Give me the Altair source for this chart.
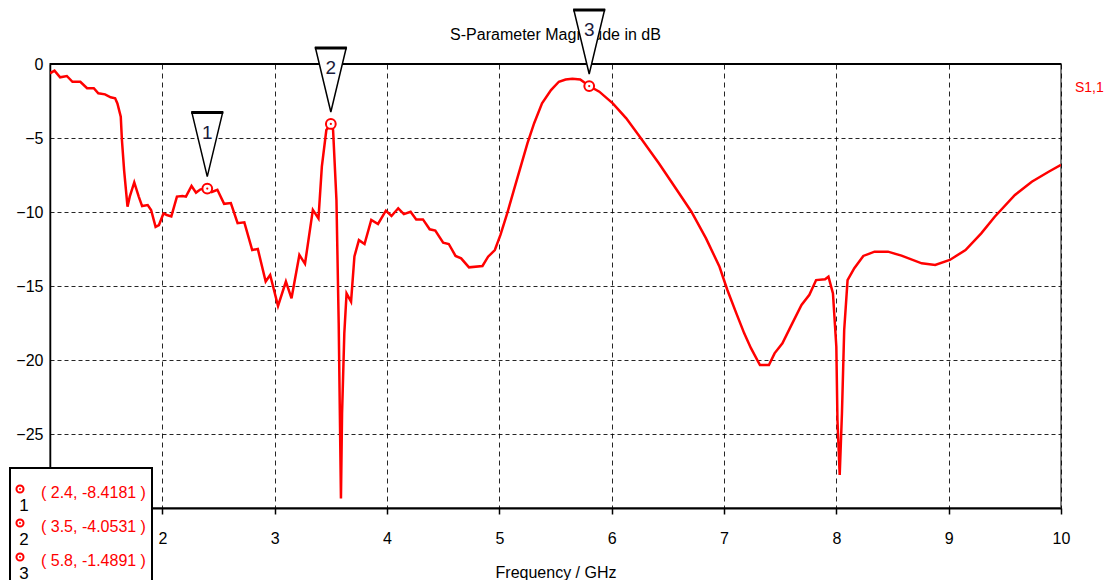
import altair as alt
import pandas as pd

# ---- data ----
freq = [1.00, 1.04, 1.09, 1.15, 1.20, 1.27, 1.33, 1.39, 1.43, 1.49, 1.54, 1.58, 1.60, 1.63, 1.64,
        1.66, 1.69, 1.71, 1.75, 1.79, 1.82, 1.87, 1.90, 1.94, 1.97, 2.01, 2.04, 2.08, 2.13, 2.18,
        2.21, 2.26, 2.30, 2.34, 2.40, 2.44, 2.49, 2.55, 2.61, 2.67, 2.73, 2.80, 2.85, 2.92, 2.96,
        3.03, 3.10, 3.15, 3.22, 3.27, 3.34, 3.39, 3.42, 3.46, 3.50, 3.52, 3.55, 3.57, 3.58, 3.59,
        3.60, 3.62, 3.64, 3.68, 3.71, 3.75, 3.80, 3.86, 3.92, 3.99, 4.04, 4.10, 4.15, 4.21, 4.26,
        4.32, 4.38, 4.43, 4.50, 4.55, 4.61, 4.66, 4.73, 4.85, 4.90, 4.96, 5.01, 5.07, 5.13, 5.19,
        5.25, 5.31, 5.38, 5.46, 5.53, 5.59, 5.65, 5.72, 5.80, 5.89, 6.01, 6.13, 6.26, 6.42, 6.57,
        6.71, 6.84, 6.96, 7.03, 7.11, 7.18, 7.24, 7.32, 7.40, 7.45, 7.52, 7.60, 7.69, 7.76, 7.82,
        7.90, 7.93, 7.97, 8.00, 8.01, 8.03, 8.05, 8.07, 8.10, 8.16, 8.24, 8.34, 8.46, 8.58, 8.76,
        8.88, 9.01, 9.15, 9.29, 9.41, 9.59, 9.74, 9.89, 10.00]
s11_db = [-0.63, -0.45, -0.90, -0.81, -1.20, -1.20, -1.64, -1.64, -1.98, -2.05, -2.25, -2.32, -2.66, -3.56, -5.10,
          -7.20, -9.64, -8.96, -8.00, -8.96, -9.60, -9.53, -9.86, -11.00, -10.88, -10.10, -10.20, -10.30, -8.96, -8.92,
          -8.96, -8.24, -8.69, -8.47, -8.4181, -8.65, -8.50, -9.45, -9.40, -10.76, -10.70, -12.57, -12.50, -14.70, -14.26,
          -16.35, -14.70, -15.83, -12.90, -13.50, -9.86, -10.43, -6.94, -4.46, -4.0531, -4.46, -9.19, -17.50, -23.40, -29.35,
          -23.60, -18.20, -15.50, -16.06, -13.00, -11.90, -12.16, -10.54, -10.81, -9.91, -10.27, -9.75, -10.14, -9.98, -10.50,
          -10.50, -11.17, -11.26, -12.07, -12.16, -12.97, -13.13, -13.74, -13.65, -13.02, -12.57, -11.55, -10.09, -8.51, -6.94,
          -5.36, -4.00, -2.66, -1.76, -1.20, -1.05, -1.00, -1.05, -1.4891, -1.87, -2.66, -3.67, -5.02, -6.71, -8.40,
          -9.98, -11.78, -13.70, -15.27, -16.85, -18.20, -19.20, -20.34, -20.34, -19.55, -18.87, -17.64, -16.28, -15.60, -14.60,
          -14.55, -14.37, -15.50, -19.10, -24.05, -27.77, -23.60, -17.97, -14.60, -13.80, -12.97, -12.68, -12.68, -12.95, -13.47,
          -13.58, -13.24, -12.57, -11.44, -10.32, -8.85, -7.95, -7.28, -6.82]

marker_id = ["1", "2", "3"]
marker_freq = [2.4, 3.5, 5.8]
marker_val = [-8.4181, -4.0531, -1.4891]

x_ticks = [2, 3, 4, 5, 6, 7, 8, 9, 10]
y_ticks = [0, -5, -10, -15, -20, -25]

title_text = "S-Parameter Magnitude in dB"
x_title = "Frequency / GHz"
series_name = "S1,1"

# ---- style ----
FONT = "Liberation Sans"
RED = "#ff0000"
W, H = 1011, 444

df = pd.DataFrame({"f": freq, "s": s11_db})
mk = pd.DataFrame({"id": marker_id, "f": marker_freq, "s": marker_val})
one = alt.Data(values=[{}])

xs = alt.Scale(domain=[1, 10], nice=False, zero=False)
ys = alt.Scale(domain=[-30, 0], nice=False, zero=False)

x_axis = alt.Axis(values=x_ticks, format="d", grid=True, gridColor="#000", gridDash=[5, 4], gridWidth=1,
                  gridOpacity=0.85, domainColor="#000", domainWidth=2, tickColor="#000", tickSize=6,
                  tickWidth=1.5, labelFontSize=16, labelColor="#000", labelPadding=16, labelFont=FONT,
                  labelFlush=False, title=x_title, titleFont=FONT, titleFontSize=16,
                  titleFontWeight="normal", titleColor="#000", titlePadding=18, zindex=0)
y_axis = alt.Axis(values=y_ticks, grid=True, gridColor="#000", gridDash=[4, 3], gridWidth=1,
                  gridOpacity=0.85, ticks=False, domainColor="#000", domainWidth=1.5, labelPadding=7,
                  labelFontSize=16, labelColor="#000", labelFont=FONT, title=None, zindex=0)

line = alt.Chart(df).mark_line(color=RED, strokeWidth=2.5, clip=True).encode(
    x=alt.X("f:Q", scale=xs, axis=x_axis),
    y=alt.Y("s:Q", scale=ys, axis=y_axis),
)

top_rule = alt.Chart(one).mark_rule(color="#000", strokeWidth=2).encode(y=alt.datum(0))

circ = alt.Chart(mk).mark_point(shape="circle", size=95, filled=False, stroke=RED, strokeWidth=2,
                                opacity=1, fill="white", fillOpacity=1).encode(x="f:Q", y="s:Q")
dot = alt.Chart(mk).mark_point(shape="circle", size=5, filled=True, color=RED, opacity=1).encode(
    x="f:Q", y="s:Q")

title = alt.Chart(one).mark_text(text=title_text, font=FONT, fontSize=16, color="#000",
                                 align="center", baseline="middle").encode(
    x=alt.value(W / 2), y=alt.value(-29))

tri = alt.Chart(mk).mark_point(shape="M-0.48,-1L0.48,-1L0,1Z", size=4096, filled=True, fill="white",
                               stroke="#000", strokeWidth=1.5, opacity=1, yOffset=-44).encode(
    x="f:Q", y="s:Q")
tri_bar = alt.Chart(mk).mark_point(shape="M-0.5,-1L0.5,-1", size=4096, filled=False, stroke="#000",
                                   strokeWidth=3, opacity=1, yOffset=-44).encode(x="f:Q", y="s:Q")
tri_txt = alt.Chart(mk).mark_text(font=FONT, fontSize=19, color="#1a1a3a", baseline="middle",
                                  yOffset=-56).encode(x="f:Q", y="s:Q", text="id:N")

s_label = alt.Chart(one).mark_text(text=series_name, font=FONT, fontSize=14, color=RED,
                                   align="left", baseline="middle").encode(
    x=alt.value(1025), y=alt.value(24))

box = alt.Chart(one).mark_rect(fill="white", stroke="#000", strokeWidth=2).encode(
    x=alt.value(-40), x2=alt.value(102), y=alt.value(404), y2=alt.value(540))

legend_layers = []
for i, (mid, f, v) in enumerate(zip(marker_id, marker_freq, marker_val)):
    yy = 425 + i * 34
    legend_layers.append(alt.Chart(one).mark_point(shape="circle", size=50, filled=False, stroke=RED,
                                                    strokeWidth=2, opacity=1).encode(
        x=alt.value(-30), y=alt.value(yy)))
    legend_layers.append(alt.Chart(one).mark_point(shape="circle", size=4, filled=True, color=RED,
                                                    opacity=1).encode(
        x=alt.value(-30), y=alt.value(yy)))
    legend_layers.append(alt.Chart(one).mark_text(text=mid, font=FONT, fontSize=17, color="#000",
                                                   align="center", baseline="middle").encode(
        x=alt.value(-26), y=alt.value(yy + 17)))
    legend_layers.append(alt.Chart(one).mark_text(text=f"( {f}, {v} )", font=FONT, fontSize=16,
                                                   color=RED, align="left", baseline="middle").encode(
        x=alt.value(-9), y=alt.value(yy + 4)))

chart = alt.layer(line, top_rule, circ, dot, title, tri, tri_bar, tri_txt, s_label, box,
                  *legend_layers).properties(
    width=W, height=H,
    autosize=alt.AutoSizeParams(type="none"),
    padding={"left": 42, "top": 56, "right": 44, "bottom": 72},
).configure_view(stroke="#808080", strokeWidth=2)

chart.save("out.html", embed_options={"renderer": "svg", "actions": False})
